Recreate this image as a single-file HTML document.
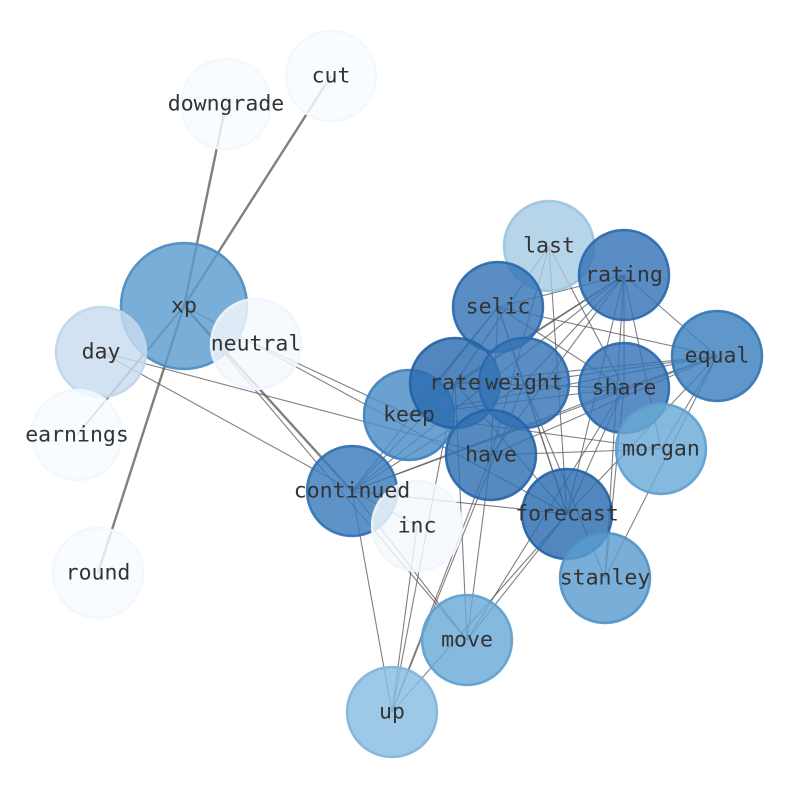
<!DOCTYPE html>
<html><head><meta charset="utf-8"><style>
html,body{margin:0;padding:0;background:#fff;}
svg{display:block;}
text{font-family:"DejaVu Sans Mono","Liberation Mono",monospace;font-size:21.5px;fill:#333;text-anchor:middle;dominant-baseline:central;}
</style></head><body>
<svg width="794" height="790" viewBox="0 0 794 790" xmlns="http://www.w3.org/2000/svg">
<g stroke="#555" stroke-opacity="0.75" stroke-width="1.1" fill="none">
<line x1="184" y1="306" x2="331" y2="76" stroke-width="2.4"/>
<line x1="184" y1="306" x2="226" y2="104" stroke-width="2.4"/>
<line x1="184" y1="306" x2="98" y2="573" stroke-width="2.4"/>
<line x1="184" y1="306" x2="77" y2="435" stroke-width="2"/>
<line x1="184" y1="306" x2="352" y2="491" stroke-width="2.4"/>
<line x1="184" y1="306" x2="567" y2="514"/>
<line x1="184" y1="306" x2="467" y2="640"/>
<line x1="101" y1="352" x2="491" y2="455"/>
<line x1="101" y1="352" x2="417" y2="526"/>
<line x1="256" y1="344" x2="409" y2="415"/>
<line x1="352" y1="491" x2="624" y2="275"/>
<line x1="352" y1="491" x2="498" y2="307"/>
<line x1="352" y1="491" x2="455" y2="383"/>
<line x1="352" y1="491" x2="524" y2="383"/>
<line x1="352" y1="491" x2="624" y2="388"/>
<line x1="352" y1="491" x2="567" y2="514"/>
<line x1="352" y1="491" x2="392" y2="712"/>
<line x1="352" y1="491" x2="467" y2="640"/>
<line x1="352" y1="491" x2="717" y2="356"/>
<line x1="392" y1="712" x2="491" y2="455"/>
<line x1="392" y1="712" x2="455" y2="383"/>
<line x1="392" y1="712" x2="524" y2="383"/>
<line x1="392" y1="712" x2="567" y2="514"/>
<line x1="392" y1="712" x2="417" y2="526"/>
<line x1="467" y1="640" x2="567" y2="514"/>
<line x1="467" y1="640" x2="491" y2="455"/>
<line x1="467" y1="640" x2="455" y2="383"/>
<line x1="467" y1="640" x2="624" y2="388"/>
<line x1="605" y1="578" x2="624" y2="275"/>
<line x1="605" y1="578" x2="624" y2="388"/>
<line x1="605" y1="578" x2="717" y2="356"/>
<line x1="605" y1="578" x2="524" y2="383"/>
<line x1="567" y1="514" x2="549" y2="246"/>
<line x1="567" y1="514" x2="498" y2="307"/>
<line x1="567" y1="514" x2="624" y2="275"/>
<line x1="567" y1="514" x2="624" y2="388"/>
<line x1="567" y1="514" x2="455" y2="383"/>
<line x1="567" y1="514" x2="524" y2="383"/>
<line x1="567" y1="514" x2="717" y2="356"/>
<line x1="491" y1="455" x2="624" y2="275"/>
<line x1="491" y1="455" x2="498" y2="307"/>
<line x1="491" y1="455" x2="549" y2="246"/>
<line x1="491" y1="455" x2="717" y2="356"/>
<line x1="491" y1="455" x2="661" y2="449"/>
<line x1="409" y1="415" x2="624" y2="275"/>
<line x1="409" y1="415" x2="498" y2="307"/>
<line x1="409" y1="415" x2="717" y2="356"/>
<line x1="409" y1="415" x2="624" y2="388"/>
<line x1="409" y1="415" x2="661" y2="449"/>
<line x1="455" y1="383" x2="624" y2="275"/>
<line x1="455" y1="383" x2="549" y2="246"/>
<line x1="455" y1="383" x2="717" y2="356"/>
<line x1="455" y1="383" x2="624" y2="388"/>
<line x1="524" y1="383" x2="624" y2="275"/>
<line x1="524" y1="383" x2="717" y2="356"/>
<line x1="524" y1="383" x2="498" y2="307"/>
<line x1="498" y1="307" x2="624" y2="275"/>
<line x1="498" y1="307" x2="624" y2="388"/>
<line x1="498" y1="307" x2="717" y2="356"/>
<line x1="624" y1="275" x2="717" y2="356"/>
<line x1="624" y1="275" x2="624" y2="388"/>
<line x1="624" y1="275" x2="661" y2="449"/>
<line x1="549" y1="246" x2="624" y2="388"/>
<line x1="624" y1="388" x2="717" y2="356"/>
<line x1="717" y1="356" x2="661" y2="449"/>
</g>
<g stroke-width="2.5" fill-opacity="0.82" stroke-opacity="0.9">
<circle cx="331" cy="76" r="45" fill="#f7fbff" stroke="#f1f7fd"/>
<circle cx="226" cy="104" r="45" fill="#f7fbff" stroke="#f1f7fd"/>
<circle cx="184" cy="306" r="63" fill="#5a9cce" stroke="#4a8cc2"/>
<circle cx="256" cy="344" r="45" fill="#f4f9fe" stroke="#eef5fc"/>
<circle cx="101" cy="352" r="45" fill="#c8dcef" stroke="#bfd6ec"/>
<circle cx="77" cy="435" r="45" fill="#f7fbff" stroke="#f1f7fd"/>
<circle cx="98" cy="573" r="45" fill="#f7fbff" stroke="#f1f7fd"/>
<circle cx="549" cy="246" r="45" fill="#a6cce3" stroke="#9bc4df"/>
<circle cx="624" cy="275" r="45" fill="#3474b6" stroke="#2a68ab"/>
<circle cx="498" cy="307" r="45" fill="#3474b6" stroke="#2a68ab"/>
<circle cx="717" cy="356" r="45" fill="#3d80bf" stroke="#3374b4"/>
<circle cx="409" cy="415" r="45" fill="#4a8cc6" stroke="#3e80bb"/>
<circle cx="455" cy="383" r="45" fill="#2b6cb0" stroke="#2262a6"/>
<circle cx="624" cy="388" r="45" fill="#3474b6" stroke="#2a68ab"/>
<circle cx="524" cy="383" r="45" fill="#3474b6" stroke="#2a68ab"/>
<circle cx="661" cy="449" r="45" fill="#6aaad6" stroke="#5e9fcf"/>
<circle cx="491" cy="455" r="45" fill="#2f70b3" stroke="#2664a8"/>
<circle cx="352" cy="491" r="45" fill="#3b7bbc" stroke="#306fb1"/>
<circle cx="417" cy="526" r="45" fill="#f4f9fe" stroke="#eef5fc"/>
<circle cx="567" cy="514" r="45" fill="#2b6cb0" stroke="#2262a6"/>
<circle cx="605" cy="578" r="45" fill="#5a9cce" stroke="#4e91c6"/>
<circle cx="467" cy="640" r="45" fill="#6aaad6" stroke="#5e9fcf"/>
<circle cx="392" cy="712" r="45" fill="#88bde0" stroke="#7db5db"/>
</g>
<g>
<text x="331" y="76">cut</text>
<text x="226" y="104">downgrade</text>
<text x="184" y="306">xp</text>
<text x="256" y="344">neutral</text>
<text x="101" y="352">day</text>
<text x="77" y="435">earnings</text>
<text x="98" y="573">round</text>
<text x="549" y="246">last</text>
<text x="624" y="275">rating</text>
<text x="498" y="307">selic</text>
<text x="717" y="356">equal</text>
<text x="409" y="415">keep</text>
<text x="455" y="383">rate</text>
<text x="524" y="383">weight</text>
<text x="624" y="388">share</text>
<text x="661" y="449">morgan</text>
<text x="491" y="455">have</text>
<text x="352" y="491">continued</text>
<text x="417" y="526">inc</text>
<text x="567" y="514">forecast</text>
<text x="605" y="578">stanley</text>
<text x="467" y="640">move</text>
<text x="392" y="712">up</text>
</g>
</svg>
</body></html>
